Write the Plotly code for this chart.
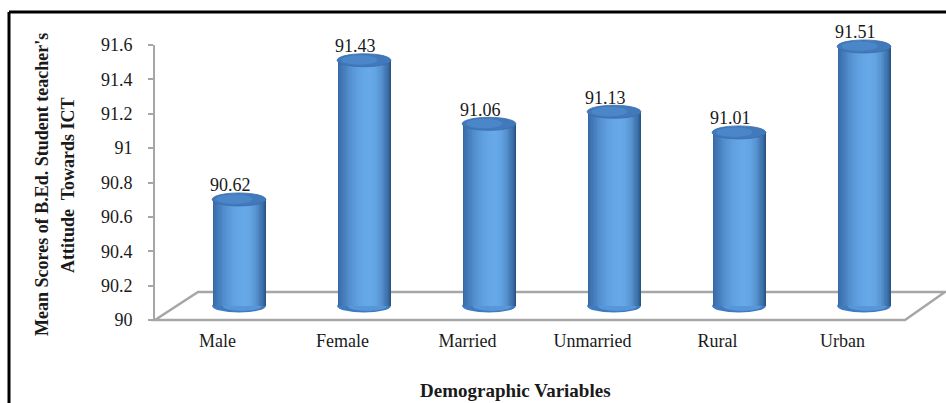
import plotly.graph_objects as go

# ---- data -------------------------------------------------------------
categories = ["Male", "Female", "Married", "Unmarried", "Rural", "Urban"]
mean_scores = [90.62, 91.43, 91.06, 91.13, 91.01, 91.51]
y_tick_values = [90, 90.2, 90.4, 90.6, 90.8, 91, 91.2, 91.4, 91.6]
y_tick_labels = ["90", "90.2", "90.4", "90.6", "90.8", "91", "91.2", "91.4", "91.6"]
y_title_lines = ["Mean Scores of B.Ed. Student teacher's", "Attitude  Towards ICT"]
x_title = "Demographic Variables"

# ---- geometry (pixels) ------------------------------------------------
FIG_W, FIG_H = 946, 403
FRONT_L, FRONT_R = 155, 905          # front edge of the floor
FRONT_B, FRONT_T = 320, 45           # y = 90 and y = 91.6 on the front wall
Y_MIN, Y_MAX = 90.0, 91.6
PX_PER_UNIT = (FRONT_B - FRONT_T) / (Y_MAX - Y_MIN)
BACK_DX_L, BACK_DX_R, BACK_DY = 43, 40, 28   # depth of the floor
MID_DX, MID_DY = 21.5, 14                    # cylinder axis plane
Y2_MIN = 89.9                                # room below the base for the rounded bottoms

FONT = "Liberation Serif"
TEXT_COLOR = "#1a1a1a"
GRID_GRAY = "#a6a6a6"


def px(x):
    return x / FIG_W


def py(y):
    return 1 - y / FIG_H


def lerp(c1, c2, t):
    return "rgb({},{},{})".format(*[round(a + (b - a) * t) for a, b in zip(c1, c2)])


fig = go.Figure()

# invisible anchor trace so the front axes (x / y) are drawn
fig.add_trace(go.Scatter(x=categories, y=mean_scores, mode="markers",
                         marker=dict(opacity=0), xaxis="x", yaxis="y",
                         showlegend=False, hoverinfo="skip"))

# ---- cylinder bodies: stacked bands build a horizontal shading ---------
BAR_W = 0.43
HIGHLIGHT = 0.10 * BAR_W            # brightest column, right of centre
LEFT_EDGE = (54, 104, 166)
RIGHT_EDGE = (40, 84, 136)
HIGH = (102, 168, 232)
N_BANDS = 18
base_values = [Y_MIN] * len(categories)
heights = [v - b for v, b in zip(mean_scores, base_values)]

for k in range(N_BANDS):
    t = k / N_BANDS
    shade = 1 - (1 - t) ** 2.2
    left = -BAR_W / 2 + t * (HIGHLIGHT + BAR_W / 2)
    right = BAR_W / 2 - t * (BAR_W / 2 - HIGHLIGHT)
    fig.add_trace(go.Bar(
        x=categories, y=heights, base=base_values,
        offset=left, width=HIGHLIGHT - left,
        marker=dict(color=lerp(LEFT_EDGE, HIGH, shade), line=dict(width=0)),
        xaxis="x2", yaxis="y2", showlegend=False, hoverinfo="skip",
    ))
    fig.add_trace(go.Bar(
        x=categories, y=heights, base=base_values,
        offset=HIGHLIGHT, width=right - HIGHLIGHT,
        marker=dict(color=lerp(RIGHT_EDGE, HIGH, shade), line=dict(width=0)),
        xaxis="x2", yaxis="y2", showlegend=False, hoverinfo="skip",
    ))

shapes = []

# ---- floor of the 3-D box -------------------------------------------
floor_path = "M {} {} L {} {} L {} {} L {} {} Z".format(
    px(FRONT_L), py(FRONT_B),
    px(FRONT_R), py(FRONT_B),
    px(FRONT_R + BACK_DX_R), py(FRONT_B - BACK_DY),
    px(FRONT_L + BACK_DX_L), py(FRONT_B - BACK_DY),
)
shapes.append(dict(type="path", xref="paper", yref="paper", path=floor_path,
                   line=dict(color=GRID_GRAY, width=2.5), layer="below"))

# ---- rounded bottoms and tops of the cylinders ------------------------
CAP_H = 6.5
for i, v in enumerate(mean_scores):
    shapes.append(dict(type="circle", xref="x2", yref="y2", ysizemode="pixel",
                       yanchor=Y_MIN, y0=-CAP_H, y1=CAP_H,
                       x0=i - BAR_W / 2, x1=i + BAR_W / 2,
                       fillcolor="#3f7bbf", line=dict(width=0), layer="below"))
    shapes.append(dict(type="circle", xref="x2", yref="y2", ysizemode="pixel",
                       yanchor=Y_MIN, y0=-CAP_H + 1.5, y1=CAP_H - 1.5,
                       x0=i - BAR_W * 0.3, x1=i + BAR_W * 0.42,
                       fillcolor="#5796d8", line=dict(width=0), layer="below"))
    shapes.append(dict(type="circle", xref="x2", yref="y2", ysizemode="pixel",
                       yanchor=v, y0=-CAP_H, y1=CAP_H,
                       x0=i - BAR_W / 2, x1=i + BAR_W / 2,
                       fillcolor="#4179bb", line=dict(color="#3a6ca8", width=0.8)))
    shapes.append(dict(type="circle", xref="x2", yref="y2", ysizemode="pixel",
                       yanchor=v, y0=-CAP_H + 2, y1=CAP_H - 1.5,
                       x0=i - BAR_W * 0.42, x1=i + BAR_W * 0.25,
                       fillcolor="#4a86c8", line=dict(width=0)))

# ---- outer frame ------------------------------------------------------
shapes.append(dict(type="line", xref="paper", yref="paper",
                   x0=px(9), y0=py(12), x1=px(FIG_W), y1=py(12),
                   line=dict(color="black", width=3)))
shapes.append(dict(type="line", xref="paper", yref="paper",
                   x0=px(9), y0=py(12), x1=px(9), y1=py(FIG_H),
                   line=dict(color="black", width=3)))

# ---- text ---------------------------------------------------------------
annotations = []
for cat, v in zip(categories, mean_scores):
    annotations.append(dict(xref="x2", yref="y2", x=cat, y=v, text=f"{v:.2f}",
                            showarrow=False, yanchor="middle", yshift=14, xshift=-9,
                            font=dict(family=FONT, size=18, color=TEXT_COLOR)))

for line_text, xpix in zip(y_title_lines, [42, 68]):
    annotations.append(dict(xref="paper", yref="paper", x=px(xpix), y=py(185),
                            text=f"<b>{line_text}</b>", textangle=-90, showarrow=False,
                            xanchor="center", yanchor="middle",
                            font=dict(family=FONT, size=18, color=TEXT_COLOR)))

annotations.append(dict(xref="paper", yref="paper", x=px(515), y=py(390),
                        text=f"<b>{x_title}</b>", showarrow=False,
                        xanchor="center", yanchor="middle",
                        font=dict(family=FONT, size=19, color=TEXT_COLOR)))

y2_bottom_px = FRONT_B - MID_DY + (Y_MIN - Y2_MIN) * PX_PER_UNIT

fig.update_layout(
    width=FIG_W, height=FIG_H,
    margin=dict(l=0, r=0, t=0, b=0, autoexpand=False),
    paper_bgcolor="white", plot_bgcolor="rgba(0,0,0,0)",
    barmode="overlay", bargap=0,
    showlegend=False,
    shapes=shapes, annotations=annotations,
    xaxis=dict(domain=[px(FRONT_L), px(FRONT_R)], range=[-0.5, 5.5],
               type="category", categoryarray=categories,
               tickvals=categories, ticktext=categories,
               showgrid=False, showline=False, zeroline=False, ticks="",
               ticklabelstandoff=8, automargin=False,
               tickfont=dict(family=FONT, size=18, color=TEXT_COLOR),
               anchor="y"),
    yaxis=dict(domain=[py(FRONT_B), py(FRONT_T)], range=[Y_MIN, Y_MAX],
               tickvals=y_tick_values, ticktext=y_tick_labels,
               showgrid=False, zeroline=False,
               showline=True, linecolor=GRID_GRAY, linewidth=2,
               ticks="outside", ticklen=5, tickcolor=GRID_GRAY, tickwidth=1.5,
               ticklabelstandoff=12, automargin=False,
               tickfont=dict(family=FONT, size=18, color=TEXT_COLOR),
               anchor="x"),
    xaxis2=dict(domain=[px(FRONT_L + MID_DX), px(FRONT_R + MID_DX)], range=[-0.5, 5.5],
                type="category", categoryarray=categories, visible=False,
                automargin=False, anchor="y2"),
    yaxis2=dict(domain=[py(y2_bottom_px), py(FRONT_T - MID_DY)], range=[Y2_MIN, Y_MAX],
                visible=False, automargin=False, anchor="x2"),
)

fig.write_html("out.html")
